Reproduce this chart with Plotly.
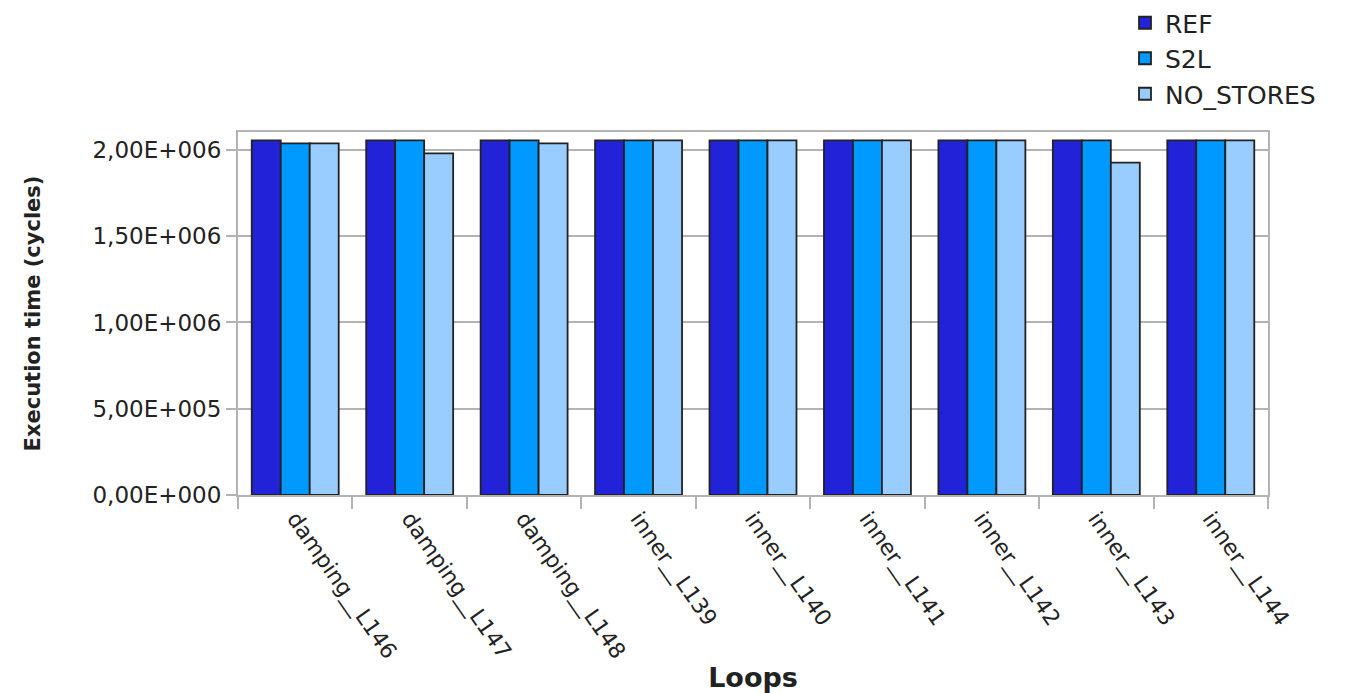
import plotly.graph_objects as go

categories = ["damping__L146", "damping__L147", "damping__L148", "inner__L139", "inner__L140",
              "inner__L141", "inner__L142", "inner__L143", "inner__L144"]
ref_vals = [2.055e6, 2.055e6, 2.055e6, 2.055e6, 2.055e6, 2.055e6, 2.055e6, 2.055e6, 2.055e6]
s2l_vals = [2.038e6, 2.055e6, 2.055e6, 2.055e6, 2.055e6, 2.055e6, 2.055e6, 2.055e6, 2.055e6]
nostores_vals = [2.038e6, 1.980e6, 2.038e6, 2.055e6, 2.055e6, 2.055e6, 2.055e6, 1.926e6, 2.055e6]
ytick_vals = [0, 5e5, 1e6, 1.5e6, 2e6]
ytick_text = ["0,00E+000", "5,00E+005", "1,00E+006", "1,50E+006", "2,00E+006"]

series = [("REF", ref_vals, "#2222d8"), ("S2L", s2l_vals, "#0099ff"), ("NO_STORES", nostores_vals, "#99ccff")]

fig = go.Figure()
for name, vals, color in series:
    fig.add_trace(go.Bar(name=name, x=categories, y=vals,
                         marker=dict(color=color, line=dict(color="#222222", width=1.8))))

font_family = "DejaVu Sans, Verdana, sans-serif"
fig.update_layout(
    width=1368, height=693,
    margin=dict(l=238, r=100, t=132, b=198, autoexpand=False),
    paper_bgcolor="white", plot_bgcolor="white",
    barmode="group", bargap=0.24, bargroupgap=0,
    font=dict(family=font_family, size=22, color="#222222"),
    legend=dict(x=1125 / 1368, xanchor="left", y=1.0, yanchor="top",
                xref="container", yref="container",
                font=dict(size=25), tracegroupgap=0, itemwidth=30,
                bgcolor="rgba(0,0,0,0)"),
    showlegend=True,
)
fig.update_xaxes(
    type="category", tickangle=55, tickson="boundaries", automargin=False,
    ticks="outside", ticklen=12, tickcolor="#b3b3b3", tickwidth=2,
    showline=True, linecolor="#b3b3b3", linewidth=2, mirror=True,
    showgrid=False, tickfont=dict(size=22),
    title=dict(text="<b>Loops</b>", font=dict(size=27), standoff=8),
)
fig.update_yaxes(
    range=[0, 2.104e6], tickvals=ytick_vals, ticktext=ytick_text, automargin=False,
    ticks="outside", ticklen=10, tickcolor="#b3b3b3", tickwidth=2,
    showline=True, linecolor="#b3b3b3", linewidth=2, mirror=True,
    showgrid=True, gridcolor="#b3b3b3", gridwidth=2, zeroline=False,
    tickfont=dict(size=23),
    title=dict(text="<b>Execution time (cycles)</b>", font=dict(size=21), standoff=46),
)
fig.write_html("out.html")
